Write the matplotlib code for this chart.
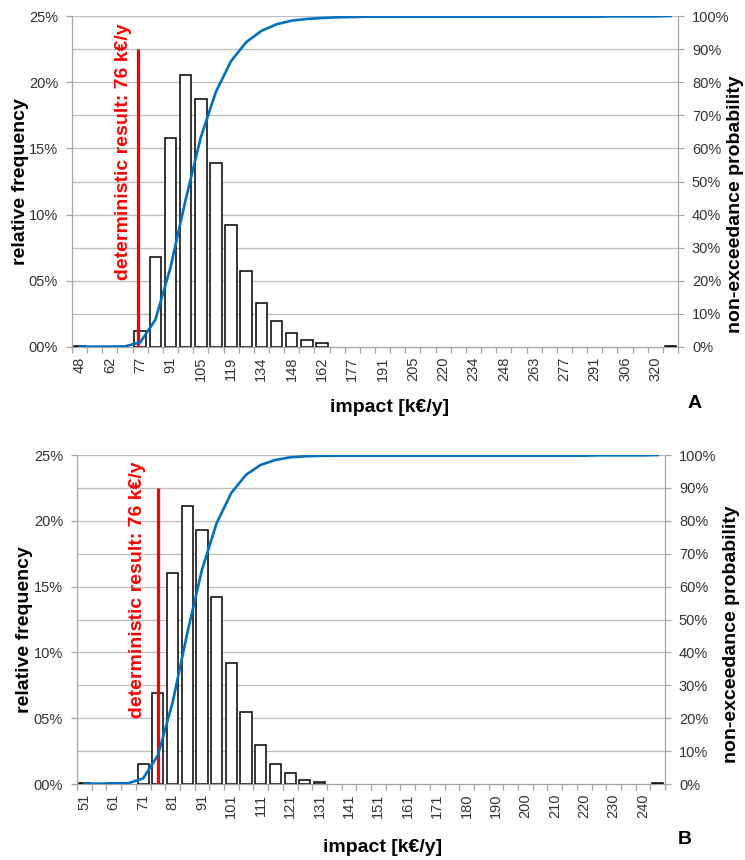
import numpy as np
import matplotlib
matplotlib.use("Agg")
import matplotlib.pyplot as plt
from matplotlib.ticker import FuncFormatter, FixedLocator

plt.rcParams['font.family'] = ['Liberation Sans', 'DejaVu Sans']

# ---------------- data: chart A ----------------
labels_A = ["48", "62", "77", "91", "105", "119", "134", "148", "162", "177",
            "191", "205", "220", "234", "248", "263", "277", "291", "306", "320"]
freq_A = [0.10, 0.00, 0.00, 0.00, 1.21, 6.80, 15.80, 20.54, 18.75, 13.86,
          9.25, 5.75, 3.35, 1.97, 1.08, 0.55, 0.28, 0.00, 0.00, 0.00,
          0.00, 0.00, 0.00, 0.00, 0.00, 0.00, 0.00, 0.00, 0.00, 0.00,
          0.00, 0.00, 0.00, 0.00, 0.00, 0.00, 0.00, 0.00, 0.00, 0.10]
cdf_A = [0.10, 0.10, 0.12, 0.20, 1.40, 8.20, 24.0, 44.5, 63.3, 77.1,
         86.4, 92.1, 95.5, 97.5, 98.6, 99.1, 99.4, 99.6, 99.7, 99.8,
         99.8, 99.8, 99.8, 99.8, 99.8, 99.8, 99.8, 99.8, 99.8, 99.8,
         99.8, 99.8, 99.8, 99.8, 99.8, 99.9, 99.9, 99.9, 99.9, 100.0]

# ---------------- data: chart B ----------------
labels_B = ["51", "61", "71", "81", "91", "101", "111", "121", "131", "141",
            "151", "161", "171", "180", "190", "200", "210", "220", "230", "240"]
freq_B = [0.10, 0.00, 0.08, 0.00, 1.50, 6.95, 16.00, 21.10, 19.30, 14.20,
          9.20, 5.45, 3.00, 1.50, 0.86, 0.32, 0.13, 0.00, 0.00, 0.00,
          0.00, 0.00, 0.00, 0.00, 0.00, 0.00, 0.00, 0.00, 0.00, 0.00,
          0.00, 0.00, 0.00, 0.00, 0.00, 0.00, 0.00, 0.00, 0.00, 0.10]
cdf_B = [0.10, 0.10, 0.18, 0.25, 1.70, 8.70, 24.7, 45.8, 65.1, 79.3,
         88.5, 94.0, 97.0, 98.5, 99.3, 99.6, 99.75, 99.8, 99.8, 99.8,
         99.8, 99.8, 99.8, 99.8, 99.8, 99.8, 99.8, 99.8, 99.8, 99.8,
         99.8, 99.8, 99.8, 99.8, 99.8, 99.9, 99.9, 99.9, 99.9, 100.0]

det_value = 76          # deterministic result, k€/y
det_top = 22.5          # height of marker line, % (left axis)
det_text = "deterministic result: 76 k€/y"

W, H = 745, 860
fig = plt.figure(figsize=(W / 100, H / 100), dpi=100)

GRID = '#BDBDBD'
SPINE = '#A6A6A6'
TICKC = '#333333'
BLUE = '#0070C0'
RED = '#FF0000'


def px(x, y):
    return x / W, 1 - y / H


def panel(rect, labels, freq, cdf):
    ax = fig.add_axes(rect)
    n = len(freq)
    idx = np.arange(n)
    f = np.array(freq)
    ax.set_xlim(-0.5, n - 0.5)
    ax.set_ylim(0, 0.25)
    ax.set_axisbelow(True)
    # gridlines at right-axis ticks (every 2.5% on left)
    for g in np.arange(0.025, 0.2501, 0.025):
        ax.axhline(g, color=GRID, lw=0.9, zorder=0)
    nz = f > 0
    ax.bar(idx[nz], f[nz] / 100, width=0.76, facecolor='white',
           edgecolor='black', linewidth=1.1, zorder=2)
    # x ticks: labels at even categories, marks at category boundaries
    lab_pos = idx[::2]
    ax.xaxis.set_major_locator(FixedLocator(lab_pos))
    ax.set_xticklabels(labels, rotation=90, fontsize=10.5, color=TICKC)
    ax.xaxis.set_minor_locator(FixedLocator(np.arange(-0.5, n, 1.0)))
    ax.tick_params(axis='x', which='major', length=0, pad=7)
    ax.tick_params(axis='x', which='minor', length=4, color=SPINE, width=0.9)
    ax.yaxis.set_major_locator(FixedLocator(np.arange(0, 0.2501, 0.05)))
    ax.yaxis.set_major_formatter(FuncFormatter(lambda v, p: f"{v * 100:02.0f}%"))
    ax.tick_params(axis='y', length=4, color=SPINE, width=0.9, pad=6,
                   labelsize=10.5, labelcolor=TICKC)
    for s in ['left', 'bottom']:
        ax.spines[s].set_color(SPINE)
        ax.spines[s].set_linewidth(0.9)
    ax.spines['top'].set_visible(False)
    ax.spines['right'].set_visible(False)

    # deterministic marker
    lab_vals = [float(l) for l in labels]
    xdet = np.interp(det_value, lab_vals, lab_pos)
    ax.plot([xdet, xdet], [0, det_top / 100], color=RED, lw=2.3, zorder=4,
            solid_capstyle='butt')

    ax2 = ax.twinx()
    ax2.set_ylim(0, 1)
    ax2.plot(idx, np.array(cdf) / 100, color=BLUE, lw=1.9, zorder=5)
    ax2.yaxis.set_major_locator(FixedLocator(np.arange(0, 1.001, 0.1)))
    ax2.yaxis.set_major_formatter(FuncFormatter(lambda v, p: f"{v * 100:.0f}%"))
    ax2.tick_params(axis='y', length=4, color=SPINE, width=0.9, pad=6,
                    labelsize=10.5, labelcolor=TICKC)
    for s in ['left', 'bottom', 'top']:
        ax2.spines[s].set_visible(False)
    ax2.spines['right'].set_color(SPINE)
    ax2.spines['right'].set_linewidth(0.9)
    return ax, ax2


def rect_px(l, t, r, b):
    return [l / W, 1 - b / H, (r - l) / W, (b - t) / H]


panel(rect_px(72, 16, 678, 347), labels_A, freq_A, cdf_A)
panel(rect_px(77, 455, 665, 784), labels_B, freq_B, cdf_B)

lab_kw = dict(fontsize=14, fontweight='bold', ha='center', va='center')

# chart A texts
fig.text(*px(21, 182), "relative frequency", rotation=90, **lab_kw)
fig.text(*px(736, 204), "non-exceedance probability", rotation=90, **lab_kw)
fig.text(*px(390, 408), "impact [k€/y]", **lab_kw)
fig.text(*px(695, 403), "A", **lab_kw)
fig.text(*px(123, 152), det_text, rotation=90, color=RED, **lab_kw)

# chart B texts
fig.text(*px(25, 630), "relative frequency", rotation=90, **lab_kw)
fig.text(*px(731, 634), "non-exceedance probability", rotation=90, **lab_kw)
fig.text(*px(383, 848), "impact [k€/y]", **lab_kw)
fig.text(*px(685, 840), "B", **lab_kw)
fig.text(*px(137, 590), det_text, rotation=90, color=RED, **lab_kw)

fig.savefig("out.png", dpi=100)
